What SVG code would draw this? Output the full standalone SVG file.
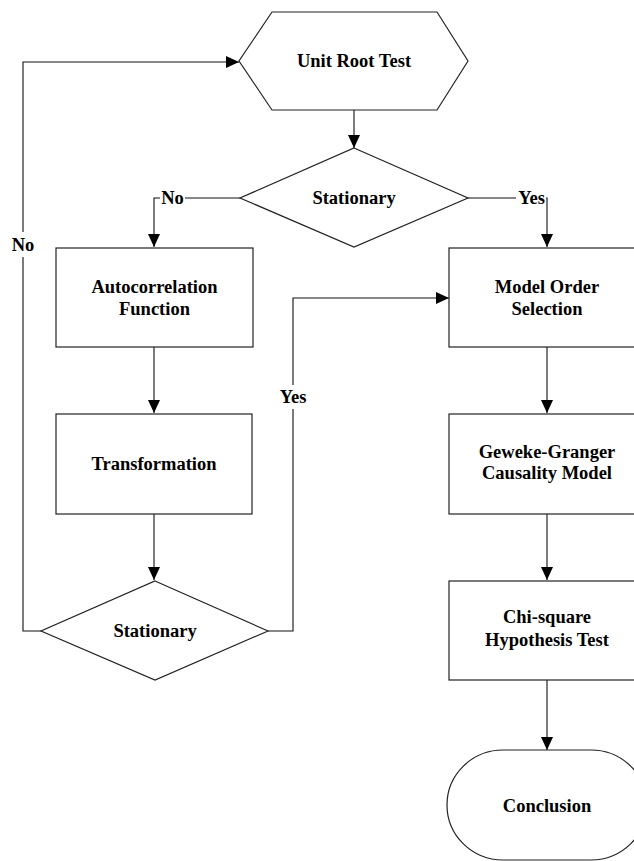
<svg xmlns="http://www.w3.org/2000/svg" width="634" height="861" viewBox="0 0 634 861">
<defs>
<style>
.node{fill:#fff;stroke:#222;stroke-width:1.2}
.conn{fill:none;stroke:#111;stroke-width:1.1}
.t{font-family:"Liberation Serif","Times New Roman",serif;font-weight:bold;font-size:18.5px;fill:#000;text-anchor:middle}
</style>
<marker id="arr" markerUnits="userSpaceOnUse" markerWidth="13" markerHeight="12" refX="13" refY="6" orient="auto">
<path d="M0,0 L13,6 L0,12 z" fill="#000"/>
</marker>
</defs>
<rect width="634" height="861" fill="#fff"/>
<g id="connectors">
<path class="conn" d="M354,110 V148" marker-end="url(#arr)"/>
<path class="conn" d="M240,198 H185"/>
<path class="conn" d="M160,198 H154 V247" marker-end="url(#arr)"/>
<path class="conn" d="M468,198 H516"/>
<path class="conn" d="M546,198 H547 V247" marker-end="url(#arr)"/>
<path class="conn" d="M154,347 V413" marker-end="url(#arr)"/>
<path class="conn" d="M154,514 V580" marker-end="url(#arr)"/>
<path class="conn" d="M41,631 H23 V257"/>
<path class="conn" d="M23,232 V62 H239" marker-end="url(#arr)"/>
<path class="conn" d="M268,631 H293 V409"/>
<path class="conn" d="M293,385 V298 H449" marker-end="url(#arr)"/>
<path class="conn" d="M547,347 V413" marker-end="url(#arr)"/>
<path class="conn" d="M547,514 V580" marker-end="url(#arr)"/>
<path class="conn" d="M547,680 V750" marker-end="url(#arr)"/>
<text class="t" x="172.5" y="204">No</text>
<text class="t" x="531.5" y="204">Yes</text>
<text class="t" x="23" y="251">No</text>
<text class="t" x="293" y="403">Yes</text>
</g>
<g id="unit-root-test">
<polygon class="node" points="272,12 437,12 468,61 437,110 272,110 239,61"/>
<text class="t" x="354" y="67">Unit Root Test</text>
</g>
<g id="stationary-1">
<polygon class="node" points="354,148 468,198 354,247 240,198"/>
<text class="t" x="354" y="204">Stationary</text>
</g>
<g id="autocorrelation">
<rect class="node" x="56" y="248" width="197" height="99"/>
<text class="t" x="154.5" y="293">Autocorrelation</text>
<text class="t" x="154.5" y="315">Function</text>
</g>
<g id="transformation">
<rect class="node" x="56" y="414" width="196" height="100"/>
<text class="t" x="154" y="470">Transformation</text>
</g>
<g id="stationary-2">
<polygon class="node" points="155,581 268,631 155,680 41,631"/>
<text class="t" x="155" y="637">Stationary</text>
</g>
<g id="model-order">
<rect class="node" x="449" y="248" width="196" height="99"/>
<text class="t" x="547" y="293">Model Order</text>
<text class="t" x="547" y="315">Selection</text>
</g>
<g id="geweke-granger">
<rect class="node" x="449" y="414" width="196" height="100"/>
<text class="t" x="547" y="458">Geweke-Granger</text>
<text class="t" x="547" y="479">Causality Model</text>
</g>
<g id="chi-square">
<rect class="node" x="449" y="581" width="196" height="99"/>
<text class="t" x="547" y="623">Chi-square</text>
<text class="t" x="547" y="646">Hypothesis Test</text>
</g>
<g id="conclusion">
<rect class="node" x="447" y="750" width="200" height="110" rx="56" ry="55"/>
<text class="t" x="547" y="812">Conclusion</text>
</g>
</svg>
